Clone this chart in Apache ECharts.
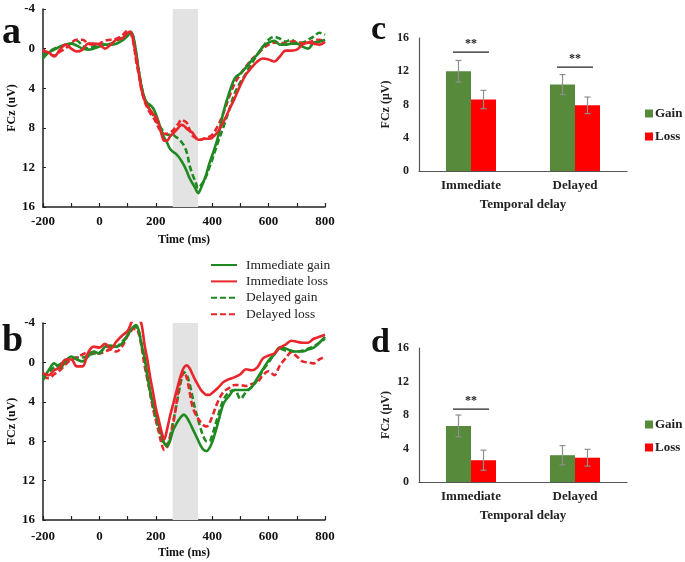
<!DOCTYPE html>
<html>
<head>
<meta charset="utf-8">
<script src="https://cdn.jsdelivr.net/npm/echarts@6/dist/echarts.min.js"></script>
<style>
html,body{margin:0;padding:0;background:#fff;}
#main{width:685px;height:562px;}
</style>
</head>
<body>
<div id="main"></div>
<script>
// ---------- DATA ----------
const times = [-200,-180,-160,-140,-120,-100,-80,-60,-40,-20,0,20,40,60,80,100,
  110,120,130,140,150,160,170,180,190,200,210,220,230,240,250,260,270,280,290,300,
  310,320,330,340,350,360,370,380,390,400,
  420,440,460,480,500,520,540,560,580,600,620,640,660,680,700,720,740,760,780,800];

// Panel a
const aImmGain = [1.0,0.4,0.1,-0.2,-0.4,-0.5,-0.3,0,0.1,0,-0.2,-0.4,-0.4,-0.5,-0.8,-1.3,
  -1.7,-1.2,0.3,2.3,3.9,5.0,5.5,5.7,6.0,6.6,7.4,8.3,9.0,9.5,10.1,10.4,10.6,10.9,11.3,11.8,
  12.4,13.1,13.6,14.1,14.6,14.1,13.4,12.6,11.6,10.8,
  9.0,6.4,4.5,3.0,2.5,1.9,1.2,0.6,-0.2,-0.6,-0.8,-0.4,-0.4,-0.5,-0.5,-0.2,0,-0.6,-0.7,-0.9];
const aImmLoss = [0.3,0.4,0.8,0.1,-0.4,0,0.3,0.1,-0.5,-0.5,-0.4,0,-0.4,-0.9,-1.0,-1.6,
  -1.7,-0.8,0.8,2.5,4.2,5.2,5.8,6.2,6.6,6.9,7.6,8.6,9.3,9.3,8.9,8.6,8.3,8.0,7.7,7.8,
  8.1,8.3,8.5,8.9,9.2,9.2,9.1,9.1,9.1,9.0,
  8.4,7.4,6.2,5.0,3.7,2.6,1.9,1.3,1.0,1.1,1.3,0.8,0.2,0.2,0.1,-0.4,-0.6,-0.5,-0.4,-0.7];
const aDelGain = [0.6,0.3,0,-0.2,-0.4,-0.5,-0.8,-0.3,0,-0.2,-0.4,-0.4,-0.5,-0.8,-1.1,-1.3,
  -1.7,-1.2,0.5,2.3,3.9,5.0,5.6,6.2,6.7,7.2,7.7,8.1,8.5,8.7,8.7,8.7,8.9,9.1,9.4,9.8,
  10.5,11.8,12.7,13.4,14.1,13.8,13.4,12.8,12.0,11.2,
  9.5,7.9,6.2,4.5,3.4,2.5,1.5,0.6,-0.2,-0.9,-1.2,-1.0,-0.7,-0.9,-0.6,-0.6,-0.9,-1.2,-1.6,-1.4];
const aDelLoss = [0.1,0.5,0.7,0.3,0,-0.6,-0.9,-0.9,-0.5,-0.4,-0.5,-0.8,-0.9,-1.0,-1.3,-1.8,
  -1.6,-0.7,1.2,2.7,4.3,5.3,6.0,6.5,6.9,7.4,8.0,8.4,8.6,8.6,8.5,8.3,7.9,7.6,7.2,7.3,
  7.5,8.2,8.8,9.0,9.2,9.2,9.1,9.0,8.9,8.7,
  7.8,6.5,4.9,3.5,2.6,1.8,1.1,0.6,0,-0.4,-0.6,-0.6,-0.5,-0.7,-0.7,-0.5,-0.6,-0.8,-0.9,-0.7];

// Panel b
const bImmGain = [1.8,0.8,0.1,0.6,-0.1,-0.6,-0.3,-0.1,-0.6,-1.1,-0.9,-1.6,-1.7,-1.6,-1.9,-2.8,
  -3.3,-3.6,-3.8,-3.2,-1.7,-0.5,1.3,2.9,4.2,5.3,6.3,7.3,8.2,8.5,8.0,7.0,6.4,5.9,5.5,5.3,
  5.6,6.1,6.7,7.3,7.9,8.5,8.9,9.0,8.7,8.1,
  6.2,4.2,3.4,2.8,2.8,2.8,2.5,1.6,0.7,-0.2,-0.8,-1.5,-1.4,-1.2,-1.1,-1.1,-1.3,-1.5,-2.0,-2.6];
const bImmLoss = [1.1,1.3,0.8,0.5,-0.3,-0.3,0.4,0.4,-1.0,-1.6,-1.5,-1.9,-1.4,-2.1,-2.7,-3.2,
  -3.8,-4.5,-4.7,-4.5,-3.8,-1.8,-0.3,1.5,3.0,4.6,5.8,7.0,7.8,6.8,5.5,4.4,3.3,2.2,1.2,0.5,
  0.3,0.6,1.2,1.8,2.3,2.8,3.1,3.3,3.3,3.1,
  2.6,2.0,1.7,1.5,1.2,0.7,0.8,0.5,-0.4,-0.7,-0.9,-1.5,-1.8,-2.2,-2.1,-2.0,-2.0,-2.4,-2.6,-2.8];
const bDelGain = [1.5,1.0,0.5,0.2,-0.2,-0.4,-0.5,-0.5,-0.7,-0.9,-1.0,-1.5,-1.6,-1.6,-2.1,-2.7,
  -3.3,-3.6,-3.6,-3.1,-1.8,-0.4,1.5,3.1,4.6,5.8,6.8,7.6,8.3,8.3,7.6,6.2,4.8,3.3,1.8,1.0,
  1.3,2.2,3.5,4.8,5.8,6.8,7.6,8.0,8.0,7.4,
  5.5,3.8,3.0,2.8,3.7,3.0,2.5,1.8,0.8,0,-0.8,-1.4,-1.2,-1.1,-1.1,-1.2,-1.4,-1.6,-2.0,-2.4];
const bDelLoss = [1.5,1.6,1.2,0.8,0.2,-0.3,-0.5,-0.8,-1.0,-1.0,-0.9,-1.1,-1.3,-1.1,-1.6,-2.7,
  -3.1,-3.4,-3.4,-2.9,-1.5,0.3,1.7,3.1,4.6,5.8,7.0,8.2,8.9,8.6,7.6,6.5,4.8,2.8,1.5,1.0,
  1.6,3.0,4.5,5.2,5.7,6.1,6.4,6.5,6.2,5.5,
  4.0,3.0,2.6,2.3,2.3,2.4,2.2,2.0,1.3,0.9,1.3,0.3,-0.4,-1.0,-0.6,-0.1,0,0.1,-0.3,-0.6];

const bandMs = [260, 350];
const lineNames = ['Immediate gain','Immediate loss','Delayed gain','Delayed loss'];
const lineTicks = [-4, 0, 4, 8, 12, 16];
const timeTicks = [-200, 0, 200, 400, 600, 800];

// Bar panels
const barCategories = ['Immediate','Delayed'];
const barNames = ['Gain','Loss'];
const cGain = [12.0, 10.4];
const cLoss = [8.6, 7.9];
const cGainErr = [1.3, 1.2];
const cLossErr = [1.1, 1.0];
const cSig = [[0, 14.3], [1, 12.5]];
const dGain = [6.7, 3.2];
const dLoss = [2.6, 2.9];
const dGainErr = [1.3, 1.15];
const dLossErr = [1.2, 1.0];
const dSig = [[0, 8.7]];
const barTicks = [0, 4, 8, 12, 16];

// ---------- STYLE ----------
const SERIF = '"Liberation Serif","Times New Roman",serif';
const LGREEN = '#1f8a22';
const LRED = '#e8262b';
const BGREEN = '#578a3b';
const BRED = '#ff0000';

function pairs(t, v){ return t.map((x,i)=>[x, v[i]]); }

function lineSeries(name, vals, idx, color, dashed, withBand){
  const s = {
    type:'line', name, xAxisIndex:idx, yAxisIndex:idx,
    data: pairs(times, vals), smooth:0.35, symbol:'none', clip:true,
    lineStyle:{color, width:2.6, type: dashed ? [6,3] : 'solid'},
    itemStyle:{color}, silent:true, z: dashed ? 3 : 4
  };
  if (withBand) {
    s.markArea = { silent:true, itemStyle:{color:'#e3e3e3'},
      data:[[{xAxis:bandMs[0]},{xAxis:bandMs[1]}]] };
  }
  return s;
}

function errSeries(idx, means, errs, side){
  return {
    type:'custom', xAxisIndex:idx, yAxisIndex:idx, silent:true, z:5,
    data: means.map((m,i)=>[i, m, errs[i]]),
    renderItem(params, api){
      const cat = api.value(0), m = api.value(1), e = api.value(2);
      const c = api.coord([cat, m]);
      const hi = api.coord([cat, m+e]);
      const lo = api.coord([cat, m-e]);
      const x = c[0] + side*12.5;
      const st = {stroke:'#8f8f8f', lineWidth:1.2};
      return {type:'group', children:[
        {type:'line', shape:{x1:x, y1:hi[1], x2:x, y2:lo[1]}, style:st},
        {type:'line', shape:{x1:x-3, y1:hi[1], x2:x+3, y2:hi[1]}, style:st},
        {type:'line', shape:{x1:x-3, y1:lo[1], x2:x+3, y2:lo[1]}, style:st}
      ]};
    }
  };
}

function sigSeries(idx, sig){
  return {
    type:'custom', xAxisIndex:idx, yAxisIndex:idx, silent:true, z:6,
    data: sig,
    renderItem(params, api){
      const p = api.coord([api.value(0), api.value(1)]);
      return {type:'group', children:[
        {type:'line', shape:{x1:p[0]-18, y1:p[1], x2:p[0]+18, y2:p[1]}, style:{stroke:'#222', lineWidth:1.3}},
        {type:'text', style:{text:'**', x:p[0], y:p[1]-2, textAlign:'center', textVerticalAlign:'bottom',
          font:'bold 12px ' + SERIF, fill:'#222'}}
      ]};
    }
  };
}

function lineXAxis(gi){
  return {
    type:'value', gridIndex:gi, min:-200, max:800, interval:100,
    name:'Time (ms)', nameLocation:'middle', nameGap:27,
    nameTextStyle:{fontFamily:SERIF, fontWeight:'bold', fontSize:12, color:'#111'},
    axisLine:{onZero:false, lineStyle:{color:'#222', width:1.5}},
    axisTick:{inside:true, length:4, lineStyle:{color:'#222', width:1.2}},
    axisLabel:{fontFamily:SERIF, fontWeight:'bold', fontSize:13, color:'#111', margin: gi === 1 ? 10 : 8,
      formatter: v => timeTicks.includes(v) ? String(v) : ''},
    splitLine:{show:false}
  };
}
function lineYAxis(gi){
  return {
    type:'value', gridIndex:gi, min:lineTicks[0], max:lineTicks[lineTicks.length-1], interval:4, inverse:true,
    name:'FCz (uV)', nameLocation:'middle', nameGap:25, nameRotate:90,
    nameTextStyle:{fontFamily:SERIF, fontWeight:'bold', fontSize:12, color:'#111'},
    axisLine:{show:true, onZero:false, lineStyle:{color:'#222', width:1.5}},
    axisTick:{show:true, inside:true, length:3, lineStyle:{color:'#222'}},
    axisLabel:{fontFamily:SERIF, fontWeight:'bold', fontSize:13, color:'#111', margin:8},
    splitLine:{show:false}
  };
}
function barXAxis(gi){
  return {
    type:'category', gridIndex:gi, data:barCategories,
    name:'Temporal delay', nameLocation:'middle', nameGap:27,
    nameTextStyle:{fontFamily:SERIF, fontWeight:'bold', fontSize:13, color:'#222'},
    axisLine:{onZero:false, lineStyle:{color:'#555', width:1.2}},
    axisTick:{show:false},
    axisLabel:{fontFamily:SERIF, fontWeight:'bold', fontSize:13, color:'#222', margin:8}
  };
}
function barYAxis(gi){
  return {
    type:'value', gridIndex:gi, min:0, max:16, interval:4,
    name:'FCz (μV)', nameLocation:'middle', nameGap:27, nameRotate:90,
    nameTextStyle:{fontFamily:SERIF, fontWeight:'bold', fontSize:12, color:'#222'},
    axisLine:{show:true, lineStyle:{color:'#555', width:1.2}},
    axisTick:{show:false},
    axisLabel:{fontFamily:SERIF, fontWeight:'bold', fontSize:12, color:'#222', margin:10},
    splitLine:{show:false}
  };
}

const chart = echarts.init(document.getElementById('main'), null, {renderer:'canvas'});

const series = [];
[[aImmGain,aImmLoss,aDelGain,aDelLoss,0],[bImmGain,bImmLoss,bDelGain,bDelLoss,1]].forEach(arr=>{
  const gi = arr[4];
  series.push(lineSeries(lineNames[2], arr[2], gi, LGREEN, true, true));
  series.push(lineSeries(lineNames[3], arr[3], gi, LRED, true, false));
  series.push(lineSeries(lineNames[0], arr[0], gi, LGREEN, false, false));
  series.push(lineSeries(lineNames[1], arr[1], gi, LRED, false, false));
});
[[cGain,cLoss,cGainErr,cLossErr,cSig,2],[dGain,dLoss,dGainErr,dLossErr,dSig,3]].forEach(arr=>{
  const gi = arr[5];
  series.push({type:'bar', name:barNames[0], xAxisIndex:gi, yAxisIndex:gi, data:arr[0], barWidth:25, barGap:'0%', itemStyle:{color:BGREEN}, silent:true});
  series.push({type:'bar', name:barNames[1], xAxisIndex:gi, yAxisIndex:gi, data:arr[1], barWidth:25, barGap:'0%', itemStyle:{color:BRED}, silent:true});
  series.push(errSeries(gi, arr[0], arr[2], -1));
  series.push(errSeries(gi, arr[1], arr[3], 1));
  series.push(sigSeries(gi, arr[4]));
});

const barLegend = (top) => ({
  data: barNames, orient:'vertical', left:645, top, padding:0, icon:'rect', itemWidth:8, itemHeight:8, itemGap:10,
  selectedMode:false,
  textStyle:{fontFamily:SERIF, fontWeight:'bold', fontSize:13, color:'#222', padding:[0,0,0,-3]}
});

chart.setOption({
  animation:false,
  backgroundColor:'#fff',
  grid:[
    {left:43, top:9, width:282, height:198},
    {left:43, top:323, width:282, height:197},
    {left:419, top:38, width:208, height:133},
    {left:419, top:348, width:208, height:134}
  ],
  xAxis:[lineXAxis(0), lineXAxis(1), barXAxis(2), barXAxis(3)],
  yAxis:[lineYAxis(0), lineYAxis(1), barYAxis(2), barYAxis(3)],
  legend:[
    {data:lineNames, orient:'vertical', left:210, top:258, padding:0, itemWidth:26, itemHeight:12, itemGap:2.4,
      selectedMode:false,
      itemStyle:{color:'rgba(0,0,0,0)', borderWidth:0, opacity:0},
      textStyle:{fontFamily:SERIF, fontSize:13.5, color:'#222', padding:[0,0,0,4]}},
    barLegend(107),
    barLegend(418)
  ],
  graphic:[
    {type:'text', left:2, top:14, style:{text:'a', font:'bold 38px ' + SERIF, fill:'#111'}},
    {type:'text', left:2, top:322, style:{text:'b', font:'bold 38px ' + SERIF, fill:'#111'}},
    {type:'text', left:371, top:13, style:{text:'c', font:'bold 34px ' + SERIF, fill:'#111'}},
    {type:'text', left:371, top:326, style:{text:'d', font:'bold 34px ' + SERIF, fill:'#111'}}
  ],
  series
});
</script>
</body>
</html>
